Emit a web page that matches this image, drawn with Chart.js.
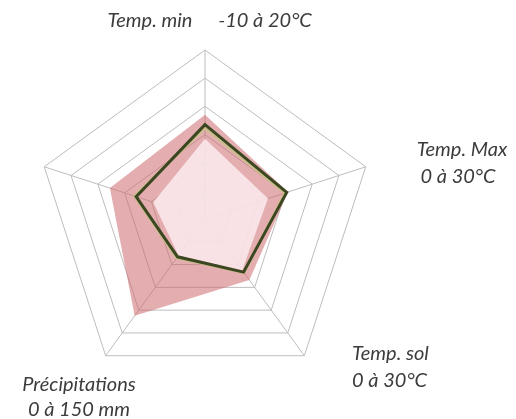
<!DOCTYPE html>
<html>
<head>
<meta charset="utf-8">
<script src="https://cdn.jsdelivr.net/npm/chart.js@4/dist/chart.umd.min.js"></script>
<style>
  html, body { margin: 0; padding: 0; background: #fff; }
</style>
</head>
<body>
<canvas id="radar" width="516" height="419"></canvas>
<script>
// ===== DATA =====
const axes = ["Temp. min", "Temp. Max", "Temp. sol", "Précipitations", ""];
const rangeHigh = [3.7, 3.1, 2.68, 4.25, 3.55];   // dark pink area
const rangeLow = [2.85, 2.35, 2.25, 1.6, 1.93];   // pale inner area
const lineTan = [3.22, 2.97, 2.36, 1.72, 2.64];
const lineGreen = [3.35, 3.05, 2.33, 1.66, 2.57];
const scaleMax = 6;

// axis titles (text drawn next to each spoke)
const axisTitles = [
  ["Temp. min", "-10 à 20°C"],
  ["Temp. Max", "0 à 30°C"],
  ["Temp. sol", "0 à 30°C"],
  ["Précipitations", "0 à 150 mm"],
  []
];
// where each title line sits, relative to the chart centre
const titleLayout = [
  [{ dx: -55, dy: -198, align: "center" }, { dx: 60, dy: -198, align: "center" }],
  [{ dx: 257, dy: -69, align: "center" }, { dx: 253, dy: -42, align: "center" }],
  [{ dx: 147, dy: 135, align: "left" }, { dx: 147, dy: 162, align: "left" }],
  [{ dx: -126, dy: 166, align: "center" }, { dx: -126, dy: 191, align: "center" }],
  []
];

// ===== TITLES PLUGIN =====
const axisTitlePlugin = {
  id: "axisTitles",
  afterDraw(chart) {
    const r = chart.scales.r;
    const ctx = chart.ctx;
    ctx.save();
    ctx.font = "italic 20px Lato";
    ctx.fillStyle = "#3c3c3c";
    ctx.textBaseline = "middle";
    axisTitles.forEach((lines, i) => {
      lines.forEach((txt, j) => {
        const p = titleLayout[i][j];
        ctx.textAlign = p.align;
        ctx.fillText(txt, r.xCenter + p.dx, r.yCenter + p.dy);
      });
    });
    ctx.restore();
  }
};

// ===== CHART =====
new Chart(document.getElementById("radar"), {
  type: "radar",
  data: {
    labels: axes,
    datasets: [
      { data: lineGreen, borderColor: "#3a4720", borderWidth: 3, fill: false, pointRadius: 0 },
      { data: lineTan, borderColor: "#cbbd8e", borderWidth: 2.5, fill: false, pointRadius: 0 },
      { data: rangeLow, borderWidth: 0, backgroundColor: "rgba(251,236,238,0.85)", fill: true, pointRadius: 0 },
      { data: rangeHigh, borderWidth: 0, backgroundColor: "rgba(205,105,112,0.55)", fill: true, pointRadius: 0 }
    ]
  },
  options: {
    responsive: false,
    animation: false,
    devicePixelRatio: 1,
    layout: { padding: { left: 36, top: 50, right: 142, bottom: 31 } },
    elements: { line: { tension: 0 } },
    plugins: { legend: { display: false }, tooltip: { enabled: false } },
    scales: {
      r: {
        min: 0,
        max: scaleMax,
        ticks: { display: false, stepSize: 1 },
        grid: { color: "#bdbdbd", lineWidth: 1 },
        angleLines: { color: "#bdbdbd", lineWidth: 1 },
        pointLabels: { display: false }
      }
    }
  },
  plugins: [axisTitlePlugin]
});
</script>
</body>
</html>
